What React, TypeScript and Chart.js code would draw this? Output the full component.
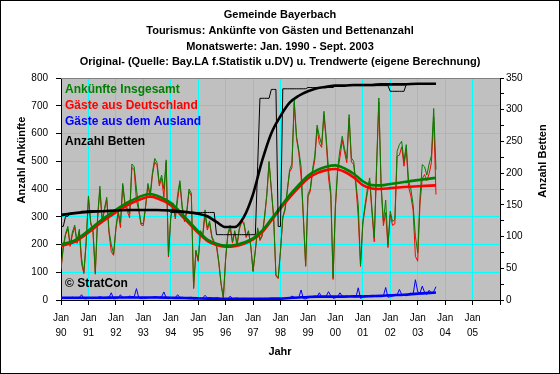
import { useEffect, useRef } from 'react';
import { Chart, registerables } from 'chart.js';

Chart.register(...registerables);

const FONT = "'Liberation Sans', Arial, sans-serif";

const titleLines = [
  'Gemeinde Bayerbach',
  'Tourismus: Ankünfte von Gästen und Bettenanzahl',
  'Monatswerte: Jan. 1990 - Sept. 2003',
  'Original- (Quelle: Bay.LA f.Statistik u.DV) u. Trendwerte (eigene Berechnung)',
];
const seriesNames = ['Ankünfte Insgesamt', 'Gäste aus Deutschland', 'Gäste aus dem Ausland', 'Anzahl Betten'];
const monthLabel = 'Jan';
const yearLabels = ['90', '91', '92', '93', '94', '95', '96', '97', '98', '99', '00', '01', '02', '03', '04', '05'];
const leftTitle = 'Anzahl Ankünfte';
const rightTitle = 'Anzahl Betten';
const xTitle = 'Jahr';
const credit = '© StratCon';

// Monthly values, Jan 1990 .. Sept 2003 (month index 0 = Jan 1990)
const arrivalsTotal = [
  115, 195, 240, 265, 200, 245, 270, 210, 255, 150, 100, 210,
  375, 280, 250, 100, 300, 410, 290, 330, 370, 250, 200, 165,
  260, 320, 280, 420, 350, 330, 310, 490, 480, 400, 330, 276,
  275, 340, 420, 380, 460, 510, 495, 420, 450, 400, 505, 160,
  300, 350, 300, 380, 430, 340, 290, 320, 400, 385, 45, 180,
  145, 250, 235, 325, 260, 285, 230, 210, 200, 140, 60, 8,
  150, 240, 270, 210, 250, 200, 260, 285, 280, 230, 250, 195,
  105, 180, 260, 220, 235, 300, 380, 500, 400, 300, 90, 80,
  180, 300, 330, 400, 470, 490, 720, 590, 540, 480, 300, 125,
  380, 400, 470, 520, 630, 590, 560, 680, 585, 470, 390, 80,
  340, 476, 540, 590, 545, 510, 668, 512, 500, 420, 344, 127,
  283, 344, 400, 440, 330, 223, 480, 728, 420, 283, 360, 199,
  320, 283, 290, 536, 560, 572, 500, 560, 430, 400, 344, 230,
  170, 370, 488, 480, 450, 490, 520, 690, 470,
];
const arrivalsGermany = [
  109, 187, 235, 256, 193, 235, 262, 204, 246, 131, 95, 206,
  367, 274, 245, 93, 291, 398, 280, 322, 361, 240, 174, 161,
  254, 313, 261, 412, 341, 320, 296, 478, 469, 359, 322, 271,
  268, 334, 412, 371, 450, 498, 484, 411, 438, 371, 497, 155,
  294, 343, 292, 361, 421, 330, 282, 313, 391, 375, 41, 175,
  139, 245, 228, 308, 252, 276, 223, 204, 192, 133, 57, 6,
  147, 236, 256, 205, 244, 193, 255, 281, 274, 225, 247, 193,
  102, 176, 255, 214, 230, 294, 375, 496, 395, 294, 87, 77,
  176, 295, 324, 393, 462, 476, 710, 582, 531, 444, 295, 121,
  372, 391, 458, 506, 618, 564, 550, 668, 571, 440, 375, 74,
  332, 464, 514, 576, 533, 495, 655, 498, 488, 410, 300, 121,
  273, 332, 386, 427, 315, 210, 468, 714, 408, 268, 315, 189,
  308, 269, 274, 518, 522, 552, 482, 545, 408, 375, 324, 157,
  140, 345, 438, 452, 430, 455, 495, 660, 380,
];
const arrivalsForeign = [
  6, 8, 5, 9, 7, 10, 8, 6, 9, 19, 5, 4,
  8, 6, 5, 7, 9, 12, 10, 8, 9, 10, 26, 4,
  6, 7, 19, 8, 9, 10, 14, 12, 11, 41, 8, 5,
  7, 6, 8, 9, 10, 12, 11, 9, 12, 29, 8, 5,
  6, 7, 8, 19, 9, 10, 8, 7, 9, 10, 4, 5,
  6, 5, 7, 17, 8, 9, 7, 6, 8, 7, 3, 2,
  3, 4, 14, 5, 6, 7, 5, 4, 6, 5, 3, 2,
  3, 4, 5, 6, 5, 6, 5, 4, 5, 6, 3, 3,
  4, 5, 6, 7, 8, 14, 10, 8, 9, 36, 5, 4,
  8, 9, 12, 14, 12, 26, 10, 12, 14, 30, 15, 6,
  8, 12, 26, 14, 12, 15, 13, 14, 12, 10, 44, 6,
  10, 12, 14, 13, 15, 13, 12, 14, 12, 15, 45, 10,
  12, 14, 16, 18, 38, 20, 18, 15, 22, 25, 20, 73,
  30, 25, 50, 28, 20, 35, 25, 30, 48,
];
const beds = [
  116, 116, 132, 132, 137, 137, 137, 137, 137, 140, 140, 140,
  141, 141, 141, 141, 141, 141, 141, 141, 141, 141, 141, 141,
  141, 141, 141, 141, 141, 141, 141, 141, 141, 141, 141, 141,
  141, 141, 141, 141, 141, 141, 141, 141, 141, 141, 141, 141,
  138, 138, 138, 138, 138, 138, 138, 138, 138, 138, 138, 138,
  138, 138, 138, 138, 138, 138, 138, 138, 103, 103, 103, 103,
  103, 103, 103, 103, 103, 103, 103, 103, 103, 103, 103, 103,
  103, 103, 210, 318, 318, 318, 318, 318, 332, 332, 332, 116,
  116, 333, 333, 333, 333, 333, 333, 333, 333, 333, 333, 333,
  335, 335, 335, 335, 335, 335, 335, 335, 335, 335, 335, 335,
  338, 338, 338, 338, 338, 338, 338, 338, 338, 338, 338, 338,
  338, 338, 338, 338, 338, 338, 338, 338, 338, 338, 338, 338,
  329, 329, 329, 329, 329, 329, 329, 340, 340, 340, 340, 340,
  340, 340, 340, 340, 340, 340, 340, 340, 340,
];

// Trend values (read at these month indexes)
const trendMonths = [0, 6, 12, 18, 24, 30, 36, 39, 42, 48, 54, 60, 64, 68, 72, 76, 80, 84, 88, 92, 96, 100, 104, 108, 112, 116, 120, 124, 128, 132, 136, 140, 144, 150, 156, 164];
const trendTotal = [200, 215, 250, 290, 325, 355, 377, 382, 376, 350, 300, 248, 218, 203, 196, 198, 207, 222, 250, 292, 335, 378, 415, 448, 468, 480, 485, 474, 455, 428, 414, 413, 418, 425, 432, 440];
const trendGermany = [195, 210, 243, 282, 316, 346, 367, 372, 367, 342, 293, 242, 213, 198, 192, 194, 203, 218, 245, 287, 330, 370, 406, 438, 457, 468, 472, 462, 442, 414, 402, 400, 403, 407, 410, 413];
const trendForeign = [8, 8, 8, 8, 9, 9, 9, 9, 9, 8, 7, 6, 5, 5, 4, 4, 4, 4, 4, 5, 5, 7, 9, 11, 12, 12, 12, 12, 13, 13, 14, 15, 17, 19, 23, 27];
const trendBeds = [134, 137, 139, 140, 141, 142, 142, 142, 142, 141, 139, 136, 132, 123, 115, 115, 131, 167, 220, 263, 290, 311, 322, 329, 334, 336, 338, 338, 339, 339, 339, 340, 340, 340, 341, 341];

const GREEN = '#008000';
const RED = '#FF0000';
const BLUE = '#0000FF';
const BLACK = '#000000';

export default function App() {
  const ref = useRef<HTMLCanvasElement>(null);

  useEffect(() => {
    if (!ref.current) return;
    const monthly = (arr: number[]) => arr.map((v, i) => ({ x: i, y: v }));
    const trend = (arr: number[]) => arr.map((v, i) => ({ x: trendMonths[i], y: v }));

    const decor = {
      id: 'decor',
      beforeDraw(chart: any) {
        const { ctx, chartArea: a } = chart;
        ctx.save();
        ctx.fillStyle = '#FFFFFF';
        ctx.fillRect(0, 0, chart.width, chart.height);
        ctx.fillStyle = '#C0C0C0';
        ctx.fillRect(a.left, a.top, a.right - a.left, a.bottom - a.top);
        ctx.restore();
      },
      afterDraw(chart: any) {
        const { ctx, chartArea: a } = chart;
        ctx.save();
        // plot top border
        ctx.strokeStyle = '#808080';
        ctx.lineWidth = 1;
        ctx.beginPath();
        ctx.moveTo(a.left, a.top + 0.5);
        ctx.lineTo(a.right, a.top + 0.5);
        ctx.stroke();
        // outer frame
        ctx.strokeStyle = '#000';
        ctx.strokeRect(0.5, 0.5, chart.width - 1, chart.height - 1);
        // title
        ctx.fillStyle = '#000';
        ctx.textAlign = 'center';
        ctx.textBaseline = 'middle';
        ctx.font = `bold 11px ${FONT}`;
        const ty = [15, 31, 47, 62];
        titleLines.forEach((t, i) => ctx.fillText(t, 280, ty[i]));
        // legend
        ctx.textAlign = 'left';
        ctx.font = `bold 12px ${FONT}`;
        const colors = [GREEN, RED, BLUE, BLACK];
        const ly = [90, 106, 122, 142];
        seriesNames.forEach((t, i) => {
          ctx.fillStyle = colors[i];
          ctx.fillText(t, a.left + 4, ly[i]);
        });
        ctx.fillStyle = '#000';
        ctx.font = `bold 12px ${FONT}`;
        ctx.fillText(credit, a.left + 4, 284);
        // axis titles
        ctx.font = `bold 11px ${FONT}`;
        ctx.textAlign = 'center';
        ctx.fillText(xTitle, 280, 352);
        ctx.save();
        ctx.translate(22, 160);
        ctx.rotate(-Math.PI / 2);
        ctx.fillText(leftTitle, 0, 0);
        ctx.restore();
        ctx.save();
        ctx.translate(543, 161);
        ctx.rotate(-Math.PI / 2);
        ctx.fillText(rightTitle, 0, 0);
        ctx.restore();
        ctx.restore();
      },
    };

    const thin = { pointRadius: 0, borderWidth: 1, tension: 0, fill: false };
    const thick = { pointRadius: 0, borderWidth: 2.6, cubicInterpolationMode: 'monotone' as const, fill: false };

    const chart = new Chart(ref.current, {
      type: 'line',
      data: {
        datasets: [
          { label: seriesNames[3] + ' Trend', data: trend(trendBeds), borderColor: BLACK, yAxisID: 'y2', ...thick },
          { label: seriesNames[3], data: monthly(beds), borderColor: BLACK, yAxisID: 'y2', ...thin },
          { label: seriesNames[2] + ' Trend', data: trend(trendForeign), borderColor: BLUE, yAxisID: 'y', ...thick },
          { label: seriesNames[0] + ' Trend', data: trend(trendTotal), borderColor: GREEN, yAxisID: 'y', ...thick },
          { label: seriesNames[1] + ' Trend', data: trend(trendGermany), borderColor: RED, yAxisID: 'y', ...thick },
          { label: seriesNames[2], data: monthly(arrivalsForeign), borderColor: BLUE, yAxisID: 'y', ...thin },
          { label: seriesNames[0], data: monthly(arrivalsTotal), borderColor: GREEN, yAxisID: 'y', ...thin },
          { label: seriesNames[1], data: monthly(arrivalsGermany), borderColor: RED, yAxisID: 'y', ...thin },
        ],
      },
      options: {
        responsive: false,
        animation: false,
        devicePixelRatio: 1,
        layout: { padding: { top: 78, left: 0, right: 0, bottom: 0 } },
        plugins: {
          legend: { display: false },
          tooltip: { enabled: false },
          title: { display: false },
        },
        scales: {
          x: {
            type: 'linear',
            min: 0,
            max: 192,
            afterFit: (s: any) => { s.height = 74; },
            border: { color: '#000', width: 1 },
            grid: { color: '#00FFFF', tickColor: '#000', tickLength: 5, lineWidth: 1 },
            ticks: {
              stepSize: 12,
              autoSkip: false,
              maxRotation: 0,
              padding: 6,
              color: '#000',
              font: { family: FONT, size: 10, lineHeight: 1.5 },
              callback: (v: any) => {
                const i = Math.round(Number(v) / 12);
                return i < yearLabels.length ? [monthLabel, yearLabels[i]] : '';
              },
            },
          },
          y: {
            position: 'left',
            min: 0,
            max: 800,
            afterFit: (s: any) => { s.width = 61; },
            border: { color: '#000', width: 1 },
            grid: { color: '#00FFFF', tickColor: '#000', tickLength: 5, lineWidth: 1 },
            ticks: { stepSize: 100, padding: 8, color: '#000', font: { family: FONT, size: 10 } },
          },
          y2: {
            position: 'right',
            min: 0,
            max: 350,
            afterFit: (s: any) => { s.width = 60; },
            border: { color: '#000', width: 1 },
            grid: { drawOnChartArea: false, tickColor: '#000', tickLength: 4 },
            ticks: {
              stepSize: 25,
              padding: 2,
              color: '#000',
              font: { family: FONT, size: 10 },
              callback: (v: any) => (Number(v) % 50 === 0 ? String(v) : ''),
            },
          },
        },
      },
      plugins: [decor],
    });
    return () => chart.destroy();
  }, []);

  return (
    <div style={{ position: 'fixed', left: 0, top: 0, width: 560, height: 374, background: '#fff' }}>
      <canvas ref={ref} width={560} height={374} style={{ display: 'block', width: 560, height: 374 }} />
    </div>
  );
}
